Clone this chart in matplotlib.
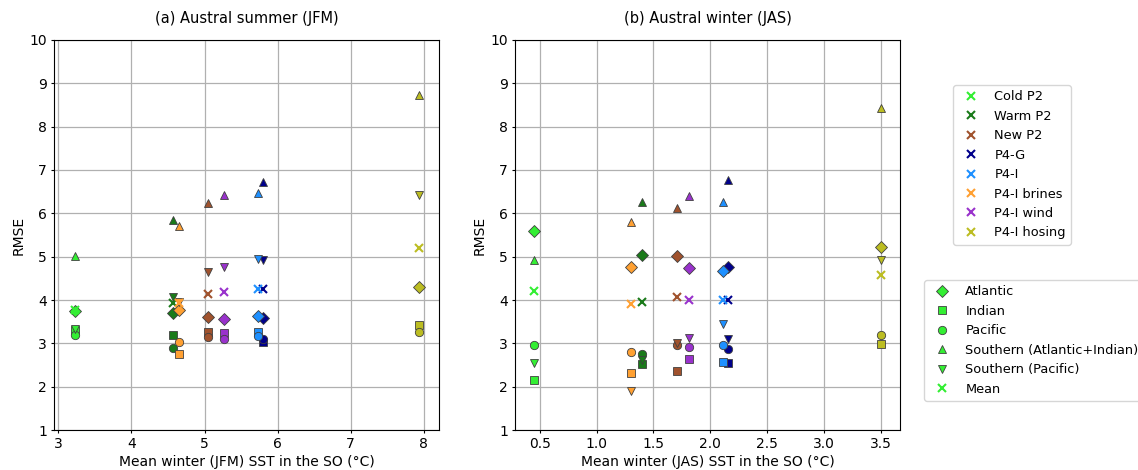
import numpy as np
import matplotlib.pyplot as plt
from matplotlib.lines import Line2D

models = ['Cold P2', 'Warm P2', 'New P2', 'P4-G', 'P4-I', 'P4-I brines', 'P4-I wind', 'P4-I hosing']
colors = ['#33ee33', '#1a7a1a', '#a0522d', '#00008b', '#1e90ff', '#ffa032', '#9932cc', '#bcbd22']

regions = ['Atlantic', 'Indian', 'Pacific', 'Southern (Atlantic+Indian)', 'Southern (Pacific)', 'Mean']
markers = ['D', 's', 'o', '^', 'v', 'x']

# mean SST per model, summer (JFM) and winter (JAS)
sst_jfm = [3.22, 4.57, 5.05, 5.80, 5.73, 4.65, 5.26, 7.93]
sst_jas = [0.45, 1.40, 1.71, 2.16, 2.11, 1.30, 1.81, 3.50]

# RMSE per model: Atlantic, Indian, Pacific, Southern (A+I), Southern (P), Mean
rmse_jfm = [
    [3.75, 3.30, 3.20, 5.01, 3.33, 3.77],
    [3.71, 3.20, 2.90, 5.85, 4.06, 3.92],
    [3.61, 3.26, 3.15, 6.24, 4.64, 4.15],
    [3.59, 3.03, 3.11, 6.72, 4.92, 4.26],
    [3.63, 3.26, 3.16, 6.47, 4.94, 4.25],
    [3.77, 2.75, 3.03, 5.71, 3.95, 3.93],
    [3.57, 3.23, 3.09, 6.42, 4.76, 4.18],
    [4.30, 3.42, 3.26, 8.74, 6.42, 5.21],
]
rmse_jas = [
    [5.59, 2.15, 2.96, 4.93, 2.54, 4.20],
    [5.04, 2.52, 2.75, 6.27, 2.62, 3.96],
    [5.01, 2.37, 2.96, 6.13, 3.00, 4.07],
    [4.76, 2.54, 2.88, 6.78, 3.11, 4.00],
    [4.67, 2.56, 2.96, 6.26, 3.44, 4.00],
    [4.76, 2.31, 2.81, 5.79, 1.90, 3.91],
    [4.73, 2.65, 2.92, 6.39, 3.13, 4.00],
    [5.22, 2.98, 3.20, 8.44, 4.92, 4.57],
]

plt.rcParams['font.size'] = 10
plt.rcParams['xtick.major.size'] = 2.5
plt.rcParams['ytick.major.size'] = 2.5
plt.rcParams['xtick.major.pad'] = 2.5
plt.rcParams['ytick.major.pad'] = 2.5
fig = plt.figure(figsize=(11.38, 4.70), dpi=100)
ax1 = fig.add_axes([0.0475, 0.0851, 0.3383, 0.8298])
ax2 = fig.add_axes([0.4525, 0.0851, 0.3383, 0.8298])


def draw(ax, sst, rmse):
    for i in range(len(models)):
        for j in range(len(regions)):
            if markers[j] == 'x':
                ax.plot(sst[i], rmse[i][j], markers[j], color=colors[i], ms=6, mew=1.5, zorder=3)
            else:
                ax.plot(sst[i], rmse[i][j], markers[j], color=colors[i], ms=6,
                        mec='0.25', mew=0.6, zorder=3)
    ax.set_ylim(1, 10)
    ax.set_yticks(range(1, 11))
    ax.grid(True, color='#b0b0b0', lw=0.9)
    ax.set_axisbelow(True)
    ax.set_ylabel('RMSE', labelpad=3)


draw(ax1, sst_jfm, rmse_jfm)
ax1.set_xlim(2.94, 8.21)
ax1.set_title('(a) Austral summer (JFM)', fontsize=10.5, pad=12)
ax1.set_xlabel('Mean winter (JFM) SST in the SO (°C)', labelpad=3)

draw(ax2, sst_jas, rmse_jas)
ax2.set_xlim(0.28, 3.67)
ax2.set_xticks(np.arange(0.5, 3.6, 0.5))
ax2.set_title('(b) Austral winter (JAS)', fontsize=10.5, pad=12)
ax2.set_xlabel('Mean winter (JAS) SST in the SO (°C)', labelpad=3)

h1 = [Line2D([], [], ls='none', marker='x', color=c, ms=6, mew=1.5) for c in colors]
fig.legend(h1, models, loc='upper left', bbox_to_anchor=(0.8374, 0.819),
           borderaxespad=0, numpoints=1, fontsize=9.3)

h2 = []
for m in markers:
    if m == 'x':
        h2.append(Line2D([], [], ls='none', marker=m, color='#33ee33', ms=6, mew=1.5))
    else:
        h2.append(Line2D([], [], ls='none', marker=m, color='#33ee33', ms=6, mec='0.25', mew=0.6))
fig.legend(h2, regions, loc='upper left', bbox_to_anchor=(0.812, 0.404),
           borderaxespad=0, numpoints=1, fontsize=9.3)

fig.savefig('out.png', dpi=100)
